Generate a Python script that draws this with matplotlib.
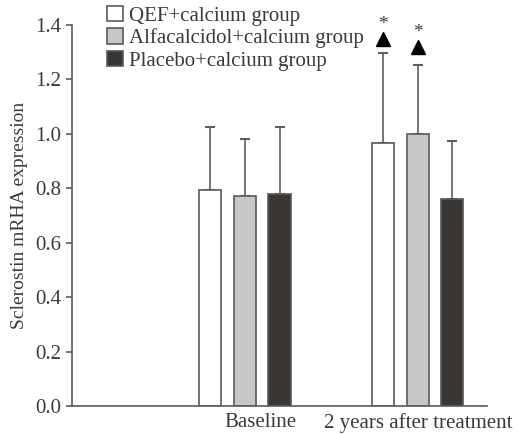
import numpy as np
import matplotlib
matplotlib.use('Agg')
import matplotlib.pyplot as plt

groups = ['Baseline', '2 years after treatment']
series = ['QEF+calcium group', 'Alfacalcidol+calcium group', 'Placebo+calcium group']
means = [[0.795, 0.967],
         [0.773, 1.000],
         [0.781, 0.761]]
upper = [[1.026, 1.297],
         [0.982, 1.253],
         [1.026, 0.975]]
marks = [1.35, 1.32]   # triangle + star heights over treatment QEF / Alfacalcidol

plt.rcParams['font.family'] = ['Liberation Serif', 'DejaVu Serif']
txt = '#3a3a3a'
edge = '#5a5a5a'
colors = ['white', '#c8c6c8', '#3a3633']

fig = plt.figure(figsize=(5.2, 4.34), dpi=100)
ax = fig.add_axes([0.1385, 0.0634, 0.798, 0.879])

centers = np.array([1.0, 2.0])
w = 0.128
off = 0.2
for i in range(3):
    x = centers + (i - 1) * off
    m = np.array(means[i])
    err = np.array(upper[i]) - m
    ax.bar(x, m, width=w, color=colors[i], edgecolor=edge, linewidth=1.2,
           label=series[i], zorder=2)
    ax.errorbar(x, m, yerr=[np.zeros(2), err], fmt='none', ecolor='#5f5f5f',
                elinewidth=1.2, capsize=3.5, capthick=1.5, zorder=1)

for i in range(2):
    xx = centers[1] + (i - 1) * off
    ax.plot(xx, marks[i], marker='^', color='black', markersize=10, zorder=3)
    ax.text(xx, marks[i] + 0.022, '*', ha='center', va='bottom', fontsize=14, color=txt)

ax.set_xlim(0, 2.4)
ax.set_ylim(0, 1.4)
ax.set_yticks(np.arange(0, 1.41, 0.2))
ax.set_yticklabels([f'{v:.1f}' for v in np.arange(0, 1.41, 0.2)])
ax.set_xticks([1.09, 2.0])
ax.set_xticklabels(groups)
ax.tick_params(axis='x', length=0, labelsize=15, labelcolor=txt, pad=5)
ax.tick_params(axis='y', direction='out', length=4, width=1.2, color=edge,
               labelsize=15, labelcolor=txt, pad=4)
for s in ['top', 'right']:
    ax.spines[s].set_visible(False)
for s in ['left', 'bottom']:
    ax.spines[s].set_color(edge)
    ax.spines[s].set_linewidth(1.2)
ax.set_ylabel('Sclerostin mRHA expression', fontsize=14, color=txt, labelpad=5)

leg = ax.legend(loc='upper left', bbox_to_anchor=(0.065, 1.072), frameon=False,
                fontsize=15, handlelength=0.75, handleheight=0.75, handletextpad=0.3,
                labelspacing=0.12, borderaxespad=0)
for t in leg.get_texts():
    t.set_color(txt)

fig.savefig('out.png', dpi=100)
